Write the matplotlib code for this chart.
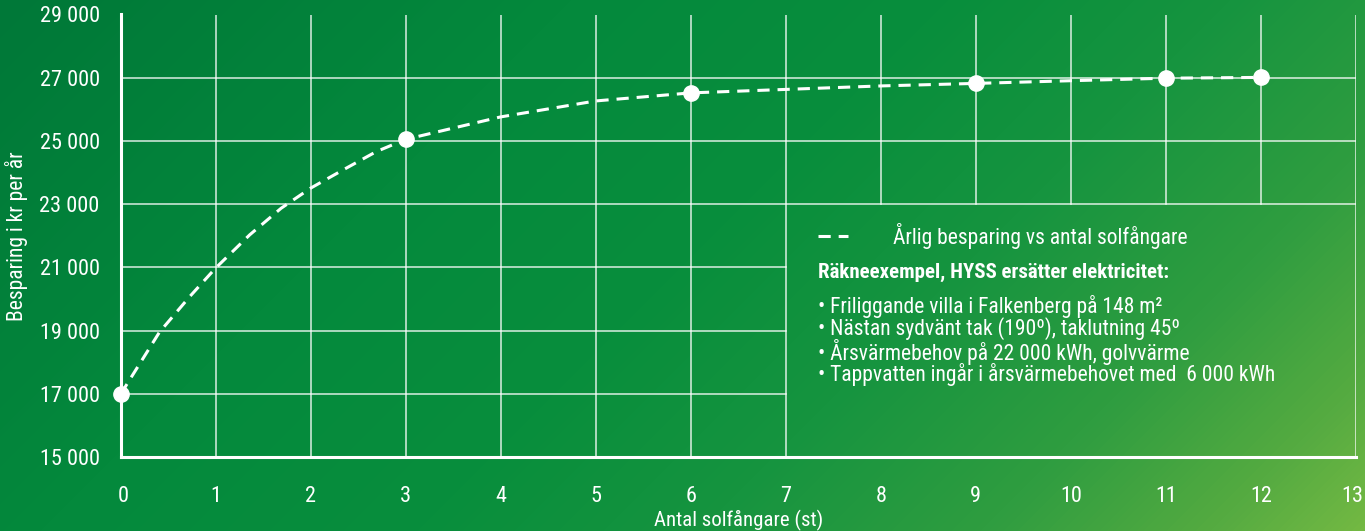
import numpy as np
import matplotlib
matplotlib.use("Agg")
import matplotlib.pyplot as plt
from matplotlib import font_manager as fm
from matplotlib.colors import LinearSegmentedColormap
from matplotlib.transforms import ScaledTranslation


# data
dot_x = [0, 3, 6, 9, 11, 12]
dot_y = [16980, 25050, 26520, 26820, 26990, 27010]

curve_x = [0, 0.41, 0.73, 1, 1.36, 1.69, 2, 2.34, 2.69, 3, 4, 5, 6, 7, 8, 9, 10, 11, 12]
curve_y = [16980, 18950, 20080, 20975, 22030, 22870, 23505, 24080, 24660, 25050,
           25760, 26265, 26520, 26630, 26740, 26820, 26905, 26985, 27010]

x_ticks = list(range(0, 14))
y_ticks = [15000, 17000, 19000, 21000, 23000, 25000, 27000, 29000]
y_labels = ["15 000", "17 000", "19 000", "21 000", "23 000", "25 000", "27 000", "29 000"]

legend_label = "Årlig besparing vs antal solfångare"
note_title = "Räkneexempel, HYSS ersätter elektricitet:"
note_lines = ["• Friliggande villa i Falkenberg på 148 m²",
              "• Nästan sydvänt tak (190º), taklutning 45º",
              "• Årsvärmebehov på 22 000 kWh, golvvärme",
              "• Tappvatten ingår i årsvärmebehovet med  6 000 kWh"]


# pick a narrow font if there is one
def pick_font(cands):
    for c in cands:
        try:
            fm.findfont(fm.FontProperties(family=c), fallback_to_default=False)
            return c
        except ValueError:
            pass
    return "DejaVu Sans"

font = pick_font(["Liberation Sans Narrow", "Roboto Condensed", "Liberation Sans"])
plt.rcParams["font.family"] = [font, "DejaVu Sans"]

W, H = 1365, 531
fig = plt.figure(figsize=(W / 100, H / 100), dpi=100)

# green diagonal gradient background
bg = fig.add_axes([0, 0, 1, 1], zorder=-10)
xx, yy = np.meshgrid(np.arange(W), np.arange(H))
t = (xx + yy) / (W + H)
cmap = LinearSegmentedColormap.from_list("grn", [
    (0.0, "#007838"), (0.3, "#04893c"), (0.5, "#088e3c"), (0.65, "#16943f"),
    (0.8, "#2f9d40"), (0.92, "#55ab41"), (1.0, "#74b943")])
bg.imshow(t, cmap=cmap, aspect="auto", vmin=0, vmax=1, interpolation="bilinear")
bg.axis("off")

ax = fig.add_axes([120.5 / W, 1 - 457 / H, (1356 - 120.5) / W, (457 - 14.5) / H])
ax.set_facecolor("none")
ax.set_xlim(0, 13)
ax.set_ylim(15000, 29000)

# grid, left open where the text box sits
gc = dict(color="white", lw=1.1, alpha=0.85, zorder=1)
for x in range(1, 14):
    if 8 <= x <= 12:
        ax.plot([x, x], [23000, 29000], **gc)
    else:
        ax.plot([x, x], [15000, 29000], **gc)
for y in y_ticks[1:]:
    if y < 23000:
        ax.plot([0, 7], [y, y], **gc)
    else:
        ax.plot([0, 13], [y, y], **gc)

line, = ax.plot(curve_x, curve_y, color="white", lw=2.2, dashes=(4, 2.6),
                solid_capstyle="butt", zorder=3)
ax.plot(dot_x, dot_y, "o", color="white", ms=11, zorder=4, clip_on=False)

for s in ["top", "right"]:
    ax.spines[s].set_visible(False)
for s in ["left", "bottom"]:
    ax.spines[s].set_color("white")
    ax.spines[s].set_linewidth(2.2)

ax.set_xticks(x_ticks)
ax.set_yticks(y_ticks)
ax.set_yticklabels(y_labels)
ax.tick_params(length=0, colors="white", labelsize=16)
ax.tick_params(axis="x", pad=21)
ax.tick_params(axis="y", pad=15)
ax.set_xlabel("Antal solfångare (st)", color="white", fontsize=15, labelpad=2)
ax.set_ylabel("Besparing i kr per år", color="white", fontsize=15.5, labelpad=8)

# nudge the end x labels inside the picture
lbls = ax.get_xticklabels()
lbls[0].set_transform(lbls[0].get_transform() + ScaledTranslation(3 / 100, 0, fig.dpi_scale_trans))
lbls[-1].set_transform(lbls[-1].get_transform() + ScaledTranslation(-4 / 100, 0, fig.dpi_scale_trans))

leg = ax.legend([line], [legend_label], loc="upper left",
                bbox_to_anchor=(818 / W, 1 - 223 / H), bbox_transform=fig.transFigure,
                frameon=False, fontsize=15.5, handlelength=1.4, handletextpad=2.1,
                borderpad=0, borderaxespad=0)
for txt in leg.get_texts():
    txt.set_color("white")

fig.text(818 / W, 1 - 272 / H, note_title, color="white", fontsize=15,
         fontweight="bold", va="center", ha="left")
for i, s in enumerate(note_lines):
    fig.text(818 / W, 1 - (306 + 23 * i) / H, s, color="white", fontsize=15.5,
             va="center", ha="left")

fig.savefig("out.png", dpi=100)
